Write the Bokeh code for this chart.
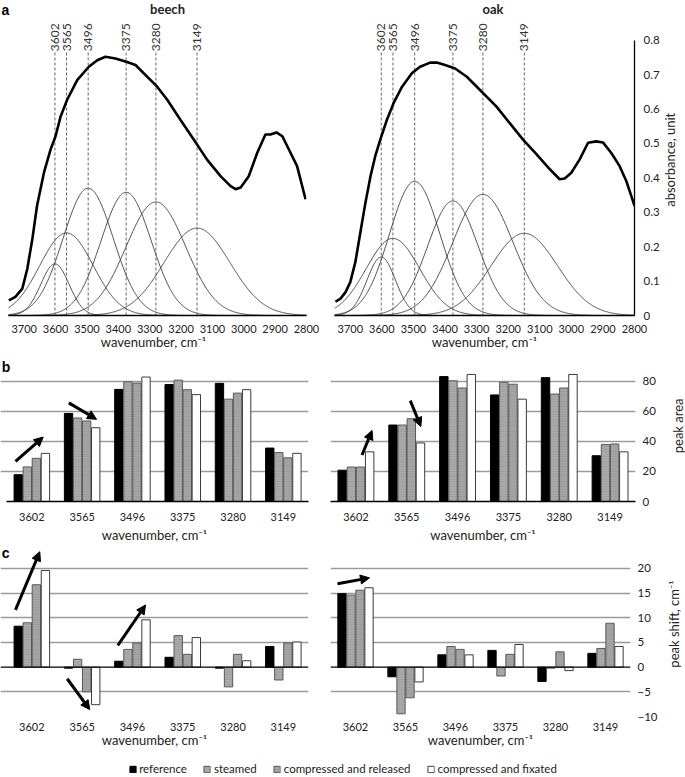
import math
import numpy as np
from bokeh.plotting import figure
from bokeh.models import (Range1d, FixedTicker, Arrow, NormalHead, Span, Legend,
                          LegendItem, Grid)
from bokeh.layouts import column, row
from bokeh.core.properties import value
from bokeh.embed import file_html
from bokeh.resources import INLINE

# ---------------- data ----------------
peaks = [3602, 3565, 3496, 3375, 3280, 3149]
peak_labels = ["3602", "3565", "3496", "3375", "3280", "3149"]
wn_ticks = [3700, 3600, 3500, 3400, 3300, 3200, 3100, 3000, 2900, 2800]
abs_ticks = [0, 0.1, 0.2, 0.3, 0.4, 0.5, 0.6, 0.7, 0.8]

beech_wn = [3749, 3728, 3706, 3690, 3674, 3659, 3637, 3616, 3600, 3584, 3563, 3531,
            3494, 3467, 3441, 3409, 3372, 3345, 3319, 3276, 3244, 3202, 3159, 3117,
            3074, 3042, 3026, 3010, 2984, 2957, 2931, 2915, 2896, 2877, 2851, 2830, 2803]
beech_abs = [0.044, 0.054, 0.078, 0.136, 0.222, 0.319, 0.415, 0.482, 0.521, 0.578, 0.627, 0.684,
             0.723, 0.742, 0.752, 0.747, 0.737, 0.728, 0.704, 0.665, 0.627, 0.569, 0.511, 0.453,
             0.405, 0.376, 0.367, 0.372, 0.405, 0.473, 0.526, 0.526, 0.532, 0.521, 0.473, 0.434, 0.338]

oak_wn = [3747, 3731, 3715, 3700, 3684, 3668, 3652, 3636, 3621, 3605, 3584, 3563,
          3536, 3505, 3479, 3447, 3426, 3400, 3368, 3331, 3279, 3237, 3195, 3153,
          3110, 3068, 3037, 3021, 3000, 2974, 2947, 2921, 2900, 2874, 2847, 2826, 2810, 2800]
oak_abs = [0.040, 0.049, 0.068, 0.097, 0.155, 0.242, 0.328, 0.405, 0.463, 0.511, 0.569, 0.617,
           0.665, 0.704, 0.723, 0.735, 0.735, 0.728, 0.718, 0.694, 0.646, 0.607, 0.559, 0.511,
           0.468, 0.425, 0.396, 0.398, 0.415, 0.453, 0.502, 0.506, 0.503, 0.473, 0.434, 0.391,
           0.347, 0.319]

# Gaussian band components (peak height, width in cm-1)
beech_band_height = [0.15, 0.24, 0.37, 0.358, 0.33, 0.254]
beech_band_sigma = [45, 85, 80, 80, 95, 105]
oak_band_height = [0.17, 0.224, 0.39, 0.333, 0.352, 0.239]
oak_band_sigma = [45, 85, 80, 80, 95, 105]

series_names = ["reference", "steamed", "compressed and released", "compressed and fixated"]

beech_area_reference = [17.8, 58.5, 74.5, 77.7, 78.5, 35.5]
beech_area_steamed = [23.0, 55.5, 79.5, 80.6, 68.0, 32.5]
beech_area_released = [28.7, 53.5, 78.7, 74.3, 72.0, 29.0]
beech_area_fixated = [32.0, 49.0, 82.7, 71.0, 74.3, 32.0]

oak_area_reference = [20.8, 50.8, 83.0, 70.8, 82.3, 30.4]
oak_area_steamed = [22.9, 50.8, 80.2, 79.2, 71.4, 37.8]
oak_area_released = [22.9, 55.0, 75.4, 77.9, 75.4, 38.2]
oak_area_fixated = [33.0, 38.9, 84.4, 68.0, 84.4, 33.0]

beech_shift_reference = [8.3, -0.2, 1.2, 2.0, -0.2, 4.2]
beech_shift_steamed = [9.0, 1.6, 3.6, 6.4, -4.0, -2.6]
beech_shift_released = [16.7, -5.0, 4.9, 2.6, 2.6, 4.9]
beech_shift_fixated = [19.6, -7.6, 9.6, 6.0, 1.3, 5.1]

oak_shift_reference = [14.9, -1.95, 2.5, 3.4, -2.9, 2.8]
oak_shift_steamed = [14.6, -9.45, 4.2, -1.8, -0.2, 3.8]
oak_shift_released = [15.6, -6.2, 3.6, 2.6, 3.1, 8.9]
oak_shift_fixated = [16.1, -3.0, 2.5, 4.6, -0.7, 4.2]

area_ticks = [0, 20, 40, 60, 80]
shift_ticks = [-10, -5, 0, 5, 10, 15, 20]

# ---------------- style ----------------
FONT = "Lato"
LETTER_FONT = "Liberation Sans"
TOP_H, B_H, C_H, LEG_H = 352, 193, 207, 25
PAGE_W = 685

BAR_STYLES = [
    dict(fill_color="black", line_color="black", line_width=1),
    dict(fill_color="#ababab", line_color="#595959", line_width=1,
         hatch_pattern="horizontal_line", hatch_color="#939393", hatch_weight=0.6, hatch_scale=2.5),
    dict(fill_color="#a6a6a6", line_color="#595959", line_width=1,
         hatch_pattern="horizontal_line", hatch_color="#8f8f8f", hatch_weight=0.6, hatch_scale=2.5),
    dict(fill_color="white", line_color="#3c3c3c", line_width=1),
]
OFFSETS = [-0.27, -0.09, 0.09, 0.27]
BAR_W = 0.166


def no_ticks(ax):
    ax.major_tick_out = 0
    ax.major_tick_in = 0
    ax.minor_tick_out = 0
    ax.minor_tick_in = 0


def x_title(ax):
    ax.axis_label = "wavenumber, cm⁻¹"
    ax.axis_label_text_font = FONT
    ax.axis_label_text_font_size = "13px"
    ax.axis_label_text_font_style = "normal"
    ax.axis_label_text_color = "#222222"


def y_axis_right(p, ticks, standoff):
    ya = p.yaxis[0]
    ya.ticker = FixedTicker(ticks=ticks)
    no_ticks(ya)
    ya.major_label_standoff = standoff
    ya.major_label_text_font = FONT
    ya.major_label_text_font_size = "11.5px"
    ya.major_label_text_color = "#222222"
    return ya


def title_strip(width, height, text, cx, cy_from_top):
    """Narrow strip holding a vertical axis title that reads bottom-to-top."""
    t = figure(width=width, height=height, x_range=Range1d(0, width), y_range=Range1d(0, height),
               toolbar_location=None, output_backend="svg", min_border=0,
               x_axis_location=None, y_axis_location=None)
    t.outline_line_color = None
    t.grid.visible = False
    t.text(x=[cx], y=[height - cy_from_top], text=[text], angle=math.pi / 2,
           text_align="center", text_baseline="middle",
           text_font=value(FONT), text_font_size="13px", text_color="#222222")
    return t


def spectrum_panel(wn, ab, heights, sigmas, name, letter, right):
    if right:
        w, xr, bl, br = 336, Range1d(3750, 2800), 8, 27
        name_x = 3248
    else:
        w, xr, bl, br = 326, Range1d(3775.5, 2800), 0, 20
        name_x = 3243
    p = figure(width=w, height=TOP_H, x_range=xr, y_range=Range1d(0, 0.9155),
               toolbar_location=None, output_backend="svg",
               min_border_top=0, min_border_bottom=35,
               min_border_left=bl, min_border_right=br,
               y_axis_location="right" if right else None)
    p.outline_line_color = None
    p.grid.visible = False
    grid_wn = np.linspace(3750, 2800, 476)
    for c, h, s in zip(peaks, heights, sigmas):
        p.line(grid_wn, h * np.exp(-0.5 * ((grid_wn - c) / s) ** 2),
               line_color="#3a3a3a", line_width=0.9)
    p.segment(x0=peaks, y0=0, x1=peaks, y1=0.766, line_color="#555555",
              line_width=0.9, line_dash="3 2")
    p.line(wn, ab, line_color="black", line_width=2.6)
    p.text(x=peaks, y=0.768, text=peak_labels, angle=math.pi / 2,
           text_align="left", text_baseline="alphabetic",
           text_font=value(FONT), text_font_size="12px", text_color="#333333")
    p.text(x=[name_x], y=[0.892], text=[name], text_align="center", text_baseline="middle",
           text_font=value(FONT), text_font_size="13px", text_font_style="bold",
           text_color="#222222")
    if letter:
        p.text(x=[3772], y=[0.887], text=[letter], text_align="left", text_baseline="middle",
               text_font=value(LETTER_FONT), text_font_size="14px", text_font_style="bold",
               text_color="black")
    xa = p.xaxis[0]
    xa.ticker = FixedTicker(ticks=wn_ticks)
    xa.bounds = (2800, 3750)
    xa.axis_line_color = "black"
    xa.axis_line_width = 1.6
    no_ticks(xa)
    xa.major_label_standoff = 9
    xa.major_label_text_font = FONT
    xa.major_label_text_font_size = "11px"
    xa.major_label_text_color = "#222222"
    x_title(xa)
    xa.axis_label_standoff = -2
    if right:
        ya = y_axis_right(p, abs_ticks, 9)
        ya.bounds = (0, 0.8)
        ya.major_label_overrides = {0: "0"}
        ya.axis_line_color = "black"
        ya.axis_line_width = 1.3
    return p


def bar_panel(vals, kind, right, letter, arrows):
    if kind == "area":
        h, ymin, ymax, tb, bb = B_H, 0, 97.0, 3, 36
        gticks = [20, 40, 60, 80]
        ticks = area_ticks
        letter_y = 89.4
        tick_stand, title_stand = 11, 3
        rb = 22
    else:
        h, ymin, ymax, tb, bb = C_H, -10, 24.66, 0, 36
        gticks = [-10, -5, 5, 10, 15, 20]
        ticks = shift_ticks
        letter_y = 23.05
        tick_stand, title_stand = 6, -2
        rb = 24
    if right:
        w, xr, bl, br = 12 + 306 + rb, Range1d(-0.5, 5.5), 12, rb
    else:
        w, xr, bl, br = 318, Range1d(-0.623, 5.5), 0, 10
    p = figure(width=w, height=h, x_range=xr, y_range=Range1d(ymin, ymax),
               toolbar_location=None, output_backend="svg",
               min_border_top=tb, min_border_bottom=bb,
               min_border_left=bl, min_border_right=br,
               y_axis_location="right" if right else None)
    p.outline_line_color = None
    p.grid.visible = False
    p.add_layout(Grid(dimension=1, ticker=FixedTicker(ticks=gticks),
                      grid_line_color="#9a9a9a", grid_line_width=1.3))
    if kind == "shift":
        p.add_layout(Span(location=0, dimension="width", line_color="black", line_width=1.2))
    xs = np.arange(len(peaks))
    for v, off, st in zip(vals, OFFSETS, BAR_STYLES):
        p.vbar(x=xs + off, top=v, bottom=0, width=BAR_W, **st)
    for (x0, y0, x1, y1) in arrows:
        p.add_layout(Arrow(end=NormalHead(size=9, fill_color="black", line_color="black",
                                          line_width=1),
                           x_start=x0, y_start=y0, x_end=x1, y_end=y1,
                           line_color="black", line_width=3))
    if letter:
        p.text(x=[-0.60], y=[letter_y], text=[letter], text_align="left", text_baseline="middle",
               text_font=value(LETTER_FONT), text_font_size="14px", text_font_style="bold",
               text_color="black")
    xa = p.xaxis[0]
    xa.ticker = FixedTicker(ticks=list(range(len(peaks))))
    xa.major_label_overrides = {i: lab for i, lab in enumerate(peak_labels)}
    xa.bounds = (-0.5, 5.5)
    xa.axis_line_color = "black" if kind == "area" else None
    xa.axis_line_width = 1.4
    no_ticks(xa)
    xa.major_label_standoff = tick_stand
    xa.major_label_text_font = FONT
    xa.major_label_text_font_size = "11px"
    xa.major_label_text_color = "#222222"
    x_title(xa)
    xa.axis_label_standoff = title_stand
    if right:
        ya = y_axis_right(p, ticks, 7)
        ya.axis_line_color = None
    return p


tl = spectrum_panel(beech_wn, beech_abs, beech_band_height, beech_band_sigma, "beech", "a", False)
tr = spectrum_panel(oak_wn, oak_abs, oak_band_height, oak_band_sigma, "oak", None, True)
t1 = title_strip(PAGE_W - tl.width - tr.width, TOP_H, "absorbance, unit", 7, 178)

bl = bar_panel([beech_area_reference, beech_area_steamed, beech_area_released, beech_area_fixated],
               "area", False, "b",
               [(-0.325, 26.6, 0.226, 42.8), (0.735, 65.5, 1.286, 54.6)])
br = bar_panel([oak_area_reference, oak_area_steamed, oak_area_released, oak_area_fixated],
               "area", True, None,
               [(0.12, 30.9, 0.318, 47.2), (1.069, 67.0, 1.278, 49.8)])
t2 = title_strip(PAGE_W - bl.width - br.width, B_H, "peak area", 677 - (bl.width + br.width), 93)

cl = bar_panel([beech_shift_reference, beech_shift_steamed, beech_shift_released, beech_shift_fixated],
               "shift", False, "c",
               [(-0.325, 11.6, 0.158, 23.4), (0.703, -2.35, 1.152, -8.6), (1.709, 4.4, 2.26, 12.6)])
cr = bar_panel([oak_shift_reference, oak_shift_steamed, oak_shift_released, oak_shift_fixated],
               "shift", True, None,
               [(-0.36, 16.9, 0.28, 18.1)])
t3 = title_strip(PAGE_W - cl.width - cr.width, C_H, "peak shift, cm⁻¹", 673 - (cl.width + cr.width), 95)

leg = figure(width=PAGE_W, height=LEG_H, x_range=Range1d(0, 1), y_range=Range1d(0, 1),
             toolbar_location=None, output_backend="svg", min_border=0,
             x_axis_location=None, y_axis_location=None)
leg.outline_line_color = None
leg.grid.visible = False
items = []
for name, st in zip(series_names, BAR_STYLES):
    # swatch-only renderer, placed outside the visible range
    r = leg.vbar(x=[5], top=[1], bottom=[0], width=0.1, **st)
    items.append(LegendItem(label=name, renderers=[r]))
legend = Legend(items=items, orientation="horizontal", location="bottom_center",
                border_line_color=None, background_fill_alpha=0,
                padding=0, margin=2, spacing=16, label_standoff=3,
                glyph_width=8, glyph_height=8, label_height=12,
                label_text_font=FONT, label_text_font_size="11.5px",
                label_text_color="#222222")
leg.add_layout(legend)

layout = column(row(tl, tr, t1), row(bl, br, t2), row(cl, cr, t3), leg)

open("out.html", "w").write(file_html(layout, INLINE))
